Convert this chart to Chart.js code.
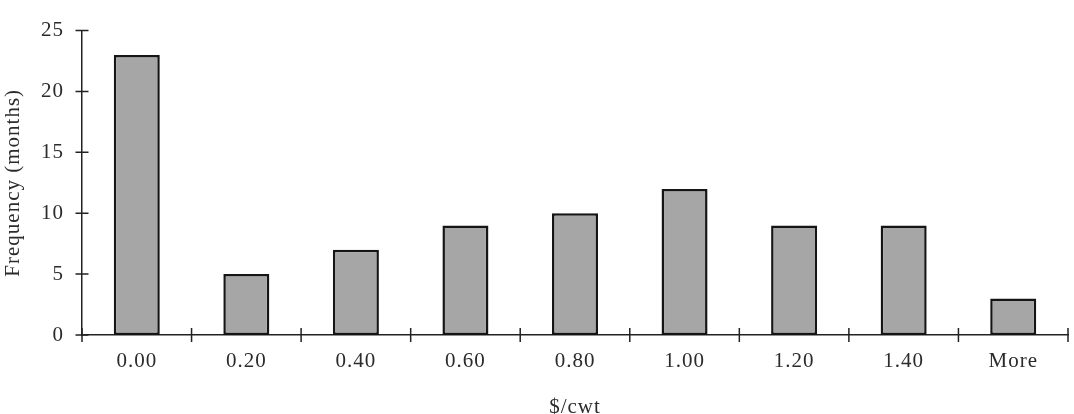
<!DOCTYPE html>
<html>
<head>
<meta charset="utf-8">
<script src="https://cdn.jsdelivr.net/npm/chart.js@4"></script>
<style>
  html, body { margin: 0; padding: 0; background: #fff; }
  #wrap { width: 1074px; height: 414px; }
</style>
</head>
<body>
<div id="wrap"><canvas id="histChart"></canvas></div>
<script>
// Datos del histograma
const categories = ['0.00', '0.20', '0.40', '0.60', '0.80', '1.00', '1.20', '1.40', 'More'];
const frequency = [23, 5, 7, 9, 10, 12, 9, 9, 3];
const yTicks = [0, 5, 10, 15, 20, 25];

const serif = "'Liberation Serif', 'Times New Roman', serif";
const axisColor = '#222';
const textColor = '#2b2b2b';

// Marcas de los ejes que cruzan la linea
const crossTicks = {
    id: 'crossTicks',
    beforeDraw(chart) {
        chart.ctx.letterSpacing = '1px';
    },
    afterDraw(chart) {
        const ctx = chart.ctx;
        const x = chart.scales.x;
        const y = chart.scales.y;
        ctx.save();
        ctx.strokeStyle = axisColor;
        ctx.lineWidth = 1.5;
        ctx.beginPath();
        yTicks.forEach(v => {
            const py = y.getPixelForValue(v);
            ctx.moveTo(x.left - 6.5, py);
            ctx.lineTo(x.left + 6.5, py);
        });
        const step = x.width / categories.length;
        for (let i = 0; i <= categories.length; i++) {
            const px = x.left + step * i;
            ctx.moveTo(px, y.bottom - 7);
            ctx.lineTo(px, y.bottom + 7);
        }
        ctx.stroke();
        ctx.restore();
    }
};

const ctx = document.getElementById('histChart').getContext('2d');
const histChart = new Chart(ctx, {
    type: 'bar',
    data: {
        labels: categories,
        datasets: [{
            label: 'Frequency',
            data: frequency,
            backgroundColor: '#a6a6a6',
            borderColor: '#151515',
            borderWidth: 2.5,
            borderSkipped: false,
            categoryPercentage: 1,
            barPercentage: 0.42
        }]
    },
    options: {
        responsive: true,
        maintainAspectRatio: false,
        animation: false,
        layout: {
            padding: { left: 0, top: 28, right: 6, bottom: 0 }
        },
        plugins: {
            legend: { display: false },
            tooltip: { enabled: false }
        },
        scales: {
            x: {
                grid: { display: false, drawTicks: false },
                border: { display: true, color: axisColor, width: 1.5 },
                ticks: {
                    color: textColor,
                    padding: 14,
                    maxRotation: 0,
                    font: { family: serif, size: 21 }
                },
                title: {
                    display: true,
                    text: '$/cwt',
                    color: textColor,
                    font: { family: serif, size: 21, lineHeight: 1 },
                    padding: { top: 0, bottom: -4 }
                },
                afterFit(scale) {
                    scale.height = 79;
                }
            },
            y: {
                min: 0,
                max: 25,
                grid: { display: false, drawTicks: false },
                border: { display: true, color: axisColor, width: 1.5 },
                ticks: {
                    stepSize: 5,
                    color: textColor,
                    padding: 18,
                    font: { family: serif, size: 21 }
                },
                title: {
                    display: true,
                    text: 'Frequency (months)',
                    color: textColor,
                    font: { family: serif, size: 21 },
                    padding: { top: 1, bottom: 0 }
                },
                afterFit(scale) {
                    scale.width = 82;
                }
            }
        }
    },
    plugins: [crossTicks]
});
</script>
</body>
</html>
